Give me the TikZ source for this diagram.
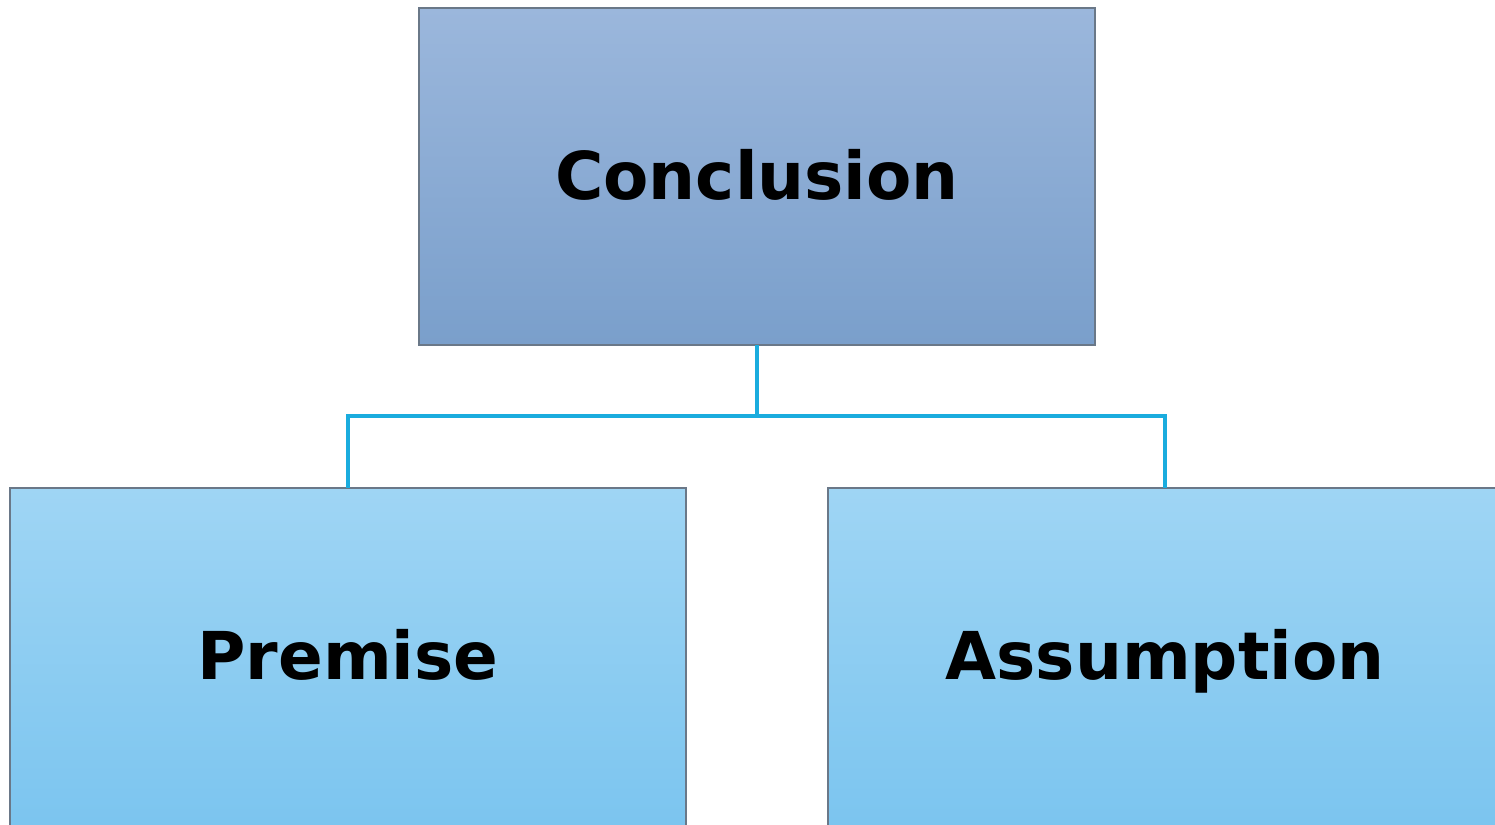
\documentclass[tikz,border=0pt]{standalone}
\usepackage{fontspec}
\setmainfont{DejaVu Sans}
\begin{document}
\begin{tikzpicture}[x=1pt,y=-1pt,
  topbox/.style={draw=boxline,line width=1.2pt,top color=topA,bottom color=topB},
  lowbox/.style={draw=boxline,line width=1.2pt,top color=lowA,bottom color=lowB},
  lbl/.style={font=\fontsize{66}{72}\selectfont\bfseries,text=black,anchor=base,inner sep=0pt},
  conn/.style={draw=connblue,line width=3.2pt}]
\definecolor{boxline}{HTML}{6A7888}
\definecolor{topA}{HTML}{9BB7DC}
\definecolor{topB}{HTML}{7A9FCB}
\definecolor{lowA}{HTML}{9FD5F4}
\definecolor{lowB}{HTML}{7AC4EF}
\definecolor{connblue}{HTML}{1AACDE}
\useasboundingbox (0,0) rectangle (1495,824);
\clip (0,0) rectangle (1495,824);
\path[topbox] (419,8) rectangle (1095,345);
\path[lowbox] (10,488) rectangle (686,840);
\path[lowbox] (828,488) rectangle (1510,840);
\node[lbl] (c) at (757,199) {Conclusion};
\node[lbl] (p) at (348,679) {Premise};
\node[lbl] (a) at (1165,679) {Assumption};
\coordinate (cb) at (757,345);
\coordinate (pt) at (348,488);
\coordinate (at) at (1165,488);
\coordinate (mid) at (757,416);
\draw[conn] (cb) -- (mid) -| (pt);
\draw[conn] (mid) -| (at);
\end{tikzpicture}
\end{document}
